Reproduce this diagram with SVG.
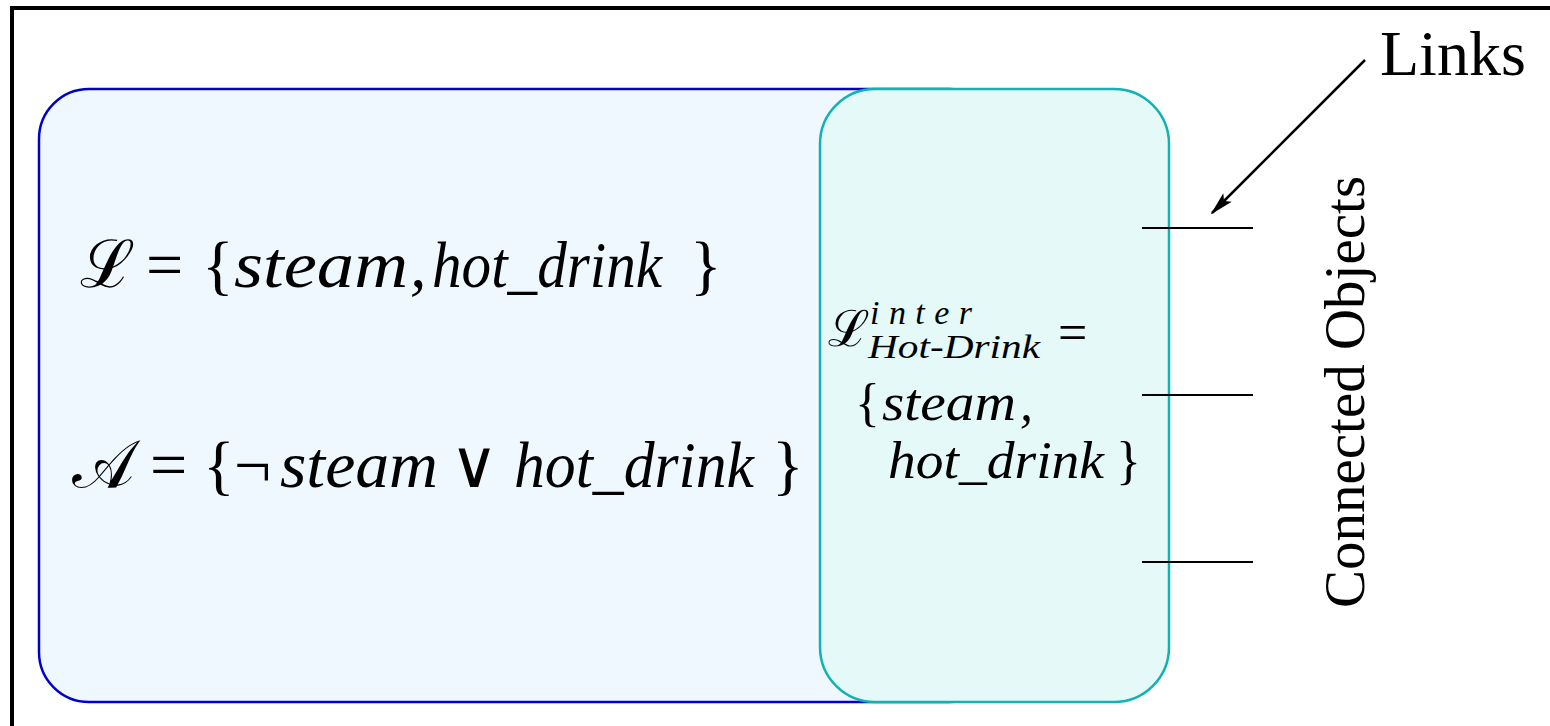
<svg xmlns="http://www.w3.org/2000/svg" width="1550" height="726" viewBox="0 0 1550 726">
<style>
.lnk{stroke:#000;stroke-width:2.2;fill:none}
text{font-family:'Liberation Serif','Times New Roman','DejaVu Serif',serif}
.i{font-style:italic}
</style>
<defs>
<marker id="stealth" viewBox="0 0 24 12" refX="22" refY="6" markerWidth="24" markerHeight="12" markerUnits="userSpaceOnUse" orient="auto">
<path d="M0,0 L24,6 L0,12 L5,6 Z" fill="#000"/>
</marker>
</defs>
<rect width="1550" height="726" fill="#fff"/>
<g id="frame">
<line x1="10" y1="8" x2="1550" y2="8" stroke="#000" stroke-width="4"/>
<line x1="12" y1="6" x2="12" y2="726" stroke="#000" stroke-width="4"/>
</g>
<g id="node-local">
<rect x="39" y="89" width="960" height="613" rx="50" ry="50" fill="#f0f8ff" stroke="#0000cc" stroke-width="2.5"/>
<text y="287" font-size="66"><tspan x="80">ℒ</tspan><tspan x="146">=</tspan><tspan x="202">{</tspan><tspan class="i" x="234" textLength="174" lengthAdjust="spacingAndGlyphs">steam</tspan><tspan class="i" x="410">,</tspan><tspan class="i" x="432" textLength="230" lengthAdjust="spacingAndGlyphs">hot_drink</tspan><tspan x="690">}</tspan></text>
<text y="487" font-size="66"><tspan x="72">𝒜</tspan><tspan x="150">=</tspan><tspan x="203">{</tspan><tspan x="234">¬</tspan><tspan class="i" x="280" textLength="158" lengthAdjust="spacingAndGlyphs">steam</tspan><tspan x="450">∨</tspan><tspan class="i" x="514" textLength="240" lengthAdjust="spacingAndGlyphs">hot_drink</tspan><tspan x="772">}</tspan></text>
</g>
<g id="node-intersection">
<rect x="820" y="89" width="349" height="613" rx="55" ry="55" fill="#e4f9f8" stroke="#12b2b2" stroke-width="2.5"/>
<text x="828" y="346" font-size="50">ℒ</text>
<text class="i" x="870" y="324" font-size="34" textLength="102" lengthAdjust="spacing">inter</text>
<text class="i" x="868" y="358" font-size="34" textLength="172" lengthAdjust="spacingAndGlyphs">Hot-Drink</text>
<text x="1058" y="350" font-size="52">=</text>
<text y="420" font-size="52"><tspan x="855">{</tspan><tspan class="i" x="882" textLength="134" lengthAdjust="spacingAndGlyphs">steam</tspan><tspan class="i" x="1020">,</tspan></text>
<text y="478" font-size="52"><tspan class="i" x="888" textLength="216" lengthAdjust="spacingAndGlyphs">hot_drink</tspan><tspan x="1116">}</tspan></text>
</g>
<g id="connectors">
<line class="lnk" x1="1142" y1="228" x2="1253" y2="228"/>
<line class="lnk" x1="1142" y1="395" x2="1253" y2="395"/>
<line class="lnk" x1="1142" y1="562" x2="1253" y2="562"/>
<line x1="1365" y1="60" x2="1212" y2="213" stroke="#000" stroke-width="2.5" marker-end="url(#stealth)"/>
</g>
<g id="label-links">
<text x="1380" y="75" font-size="64">Links</text>
</g>
<g id="label-connected">
<text font-size="57" text-anchor="middle" transform="translate(1364,392) rotate(-90)">Connected Objects</text>
</g>
</svg>
